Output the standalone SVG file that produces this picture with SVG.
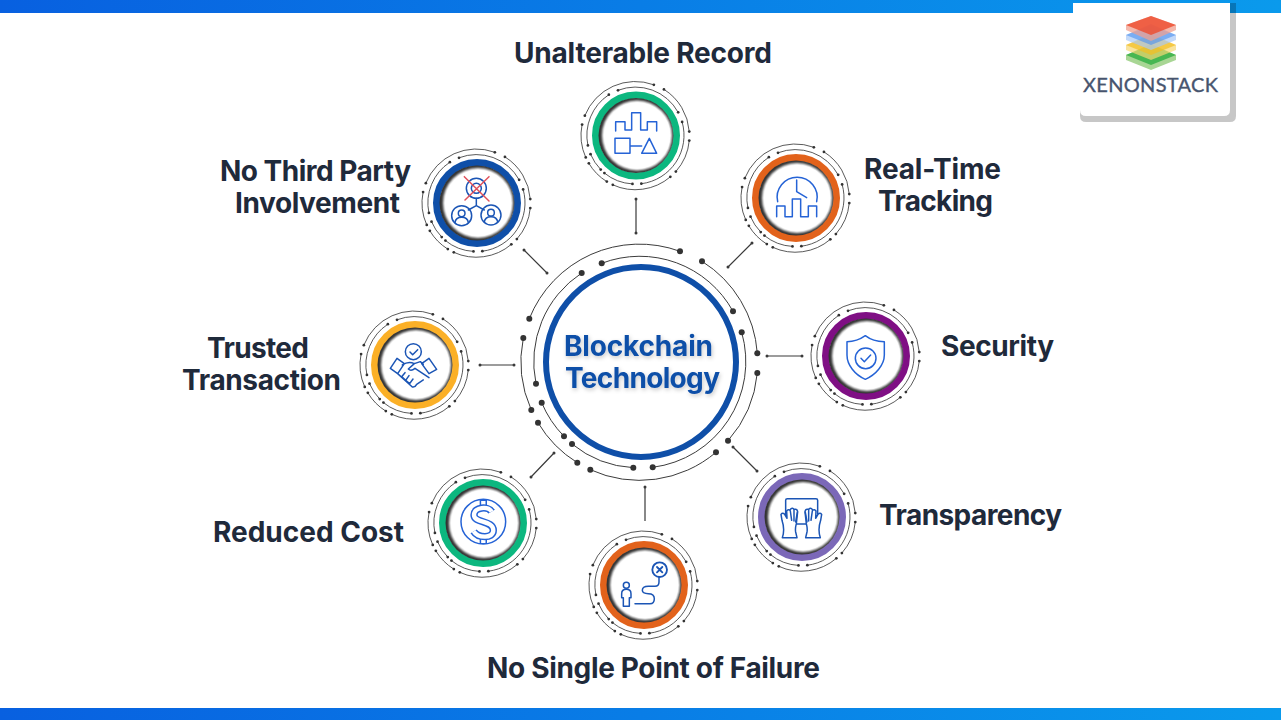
<svg xmlns="http://www.w3.org/2000/svg" width="1281" height="721" viewBox="0 0 1281 721">
<style>
text{font-family:Inter,"Liberation Sans",sans-serif}
.lbl{font-size:28px;font-weight:700;fill:#1f2a3b}
.cen{font-size:28px;font-weight:700;fill:#0f4fa8;filter:url(#ts)}
.arc{fill:none;stroke:#3c3c3c;vector-effect:non-scaling-stroke}
.dot{fill:#333;stroke:none}
.conn{stroke:#3a3a3a;stroke-width:1.2;fill:none}
.end{fill:#3a3a3a}
.ic{fill:none;stroke:#2563d6;stroke-width:4.5;stroke-linejoin:round;stroke-linecap:round}
.icd{fill:none;stroke:#1b55b5;stroke-width:4.5;stroke-linejoin:round;stroke-linecap:round}
.sat{stroke-width:.85}
.main{stroke-width:1}
</style>
<defs>
<linearGradient id="bar" x1="0" x2="1" y1="0" y2="0"><stop offset="0" stop-color="#0860e0"/><stop offset="1" stop-color="#0a9aec"/></linearGradient>
<filter id="ts" x="-20%" y="-30%" width="140%" height="170%"><feDropShadow dx="1" dy="2" stdDeviation="2.2" flood-color="#000" flood-opacity=".22"/></filter>
<filter id="b" x="-20%" y="-20%" width="140%" height="140%"><feGaussianBlur stdDeviation="1.1"/></filter>
<g id="circuit">
<path class="arc" d="M-111.7-43.3A118.5 118.5 0 0 1 39-110.7M61-100.7A118.5 118.5 0 0 1 116.3-8.7M116.3 11A118.5 118.5 0 0 1 87 78.7M-50.7 107.7A118.5 118.5 0 0 0 75 90.3M-117.7-24A118.5 118.5 0 0 0-109.7 48M-103 60.7A118.5 118.5 0 0 0-63.7 100.7M-59.3-89A106.5 106.5 0 0 0-105 21.7M-39.3-98.7A106.5 106.5 0 0 1 92-50.7M100.7-29.7A106.5 106.5 0 0 1 11.7 105.3M-99.3 40.7A106.5 106.5 0 0 0-77 74.3M-69 82A106.5 106.5 0 0 0-7.7 105.7"/>
<g class="dot"><circle cx="-111.7" cy="-43.3" r="3"/><circle cx="39" cy="-110.7" r="3"/><circle cx="61" cy="-100.7" r="3"/><circle cx="116.3" cy="-8.7" r="3"/><circle cx="116.3" cy="11" r="3"/><circle cx="87" cy="78.7" r="3"/><circle cx="-50.7" cy="107.7" r="3"/><circle cx="75" cy="90.3" r="3"/><circle cx="-117.7" cy="-24" r="3"/><circle cx="-109.7" cy="48" r="3"/><circle cx="-103" cy="60.7" r="3"/><circle cx="-63.7" cy="100.7" r="3"/><circle cx="-59.3" cy="-89" r="3"/><circle cx="-105" cy="21.7" r="3"/><circle cx="-39.3" cy="-98.7" r="3"/><circle cx="92" cy="-50.7" r="3"/><circle cx="100.7" cy="-29.7" r="3"/><circle cx="11.7" cy="105.3" r="3"/><circle cx="-99.3" cy="40.7" r="3"/><circle cx="-77" cy="74.3" r="3"/><circle cx="-69" cy="82" r="3"/><circle cx="-7.7" cy="105.7" r="3"/></g>
</g>
<g id="disc">
<circle r="37.5" fill="#333"/>
<circle cx="1" r="35" fill="#fff" filter="url(#b)"/>
<circle cx="1.2" r="33" fill="#fff"/>
</g>
<path id="hand" d="M112 242C118 225 116 205 111 190L108 172Q113 165 119 172L126 184L125 162Q130 155 135 160L137 156Q143 151 147 157L150 157Q156 155 158 164L154 200Q150 215 152 225L156 242Z"/>
</defs>
<rect width="1281" height="721" fill="#fff"/>
<rect y="0" width="1281" height="13" fill="url(#bar)"/>
<rect y="708" width="1281" height="12" fill="url(#bar)"/>

<g id="logo">
<path d="M1080 3H1236V116Q1236 122 1230 122H1086Q1080 122 1080 116Z" fill="#000" opacity=".22"/>
<path d="M1073 3H1230V110Q1230 116 1224 116H1086Q1080 116 1080 110V13H1073Z" fill="#fff"/>
<g>
<path d="M1151 46L1176 55V60L1151 70L1126 60V55Z" fill="#a8d694"/><path d="M1151 44L1176 55L1151 65L1126 55Z" fill="#3cb44a" opacity=".9"/>
<path d="M1151 36L1176 45V50L1151 60L1126 50V45Z" fill="#f7d774" opacity=".7"/><path d="M1151 34L1176 45L1151 55L1126 45Z" fill="#f4bd1f" opacity=".7"/>
<path d="M1151 26L1176 35V40L1151 50L1126 40V35Z" fill="#a9c9f7" opacity=".7"/><path d="M1151 24L1176 35L1151 45L1126 35Z" fill="#4a90ee" opacity=".6"/>
<path d="M1151 16L1176 25V30L1151 41L1126 30V25Z" fill="#f0a090" opacity=".75"/><path d="M1151 16L1176 25L1151 35L1126 25Z" fill="#ee4a2c" opacity=".8"/>
</g>
<text x="1083" y="92" font-size="20" fill="#47546e" stroke="#47546e" stroke-width=".35" textLength="135" style="font-family:Lato,'Liberation Sans',sans-serif">XENONSTACK</text>
</g>

<g id="connectors">
<path class="conn" d="M636 198V233M524 250L547 273M752 243L728 267M767 356H802M480 365H514M554 453L531 477M733 447L757 471M645 487V521"/>
<g class="end"><circle cx="636" cy="199" r="1.5"/><circle cx="636" cy="233" r="1.5"/><circle cx="524" cy="250" r="1.5"/><circle cx="547" cy="273" r="1.5"/><circle cx="752" cy="243" r="1.5"/><circle cx="728" cy="267" r="1.5"/><circle cx="767" cy="356" r="1.5"/><circle cx="802" cy="356" r="1.5"/><circle cx="480" cy="365" r="1.5"/><circle cx="514" cy="365" r="1.5"/><circle cx="554" cy="453" r="1.5"/><circle cx="531" cy="477" r="1.5"/><circle cx="733" cy="447" r="1.5"/><circle cx="757" cy="471" r="1.5"/><circle cx="645" cy="487" r="1.5"/></g>
</g>

<g id="center">
<use href="#circuit" class="main" transform="translate(641 362)"/>
<circle cx="641" cy="362" r="95" fill="#fff" stroke="#0f4fa8" stroke-width="6"/>
<text class="cen" x="564" y="356" textLength="149">Blockchain</text>
<text class="cen" x="565" y="388" textLength="155">Technology</text>
</g>

<g id="node-unalterable">
<use href="#circuit" class="sat" transform="translate(636 135.5) scale(.458)"/>
<circle cx="636" cy="135.5" r="40.5" fill="none" stroke="#0cb77f" stroke-width="7"/>
<use href="#disc" x="636" y="135.5"/>
<g class="ic" transform="translate(570 70) scale(.3333)"><path d="M137 183V155H165V180H185V128H212V180H232V155H260V183M135 205H180V250H135ZM180 228H215M238 205L260 250H215Z"/></g>
<text class="lbl" x="514" y="63" textLength="258">Unalterable Record</text>
</g>

<g id="node-third-party">
<use href="#circuit" class="sat" transform="translate(477 203) scale(.458)"/>
<circle cx="477" cy="203" r="40.5" fill="none" stroke="#0f4fa8" stroke-width="7"/>
<use href="#disc" x="477" y="203"/>
<g class="icd" transform="translate(415 140) scale(.3333)"><circle cx="184" cy="145" r="30"/><circle cx="184" cy="145" r="15"/><circle cx="140" cy="227" r="30"/><circle cx="228" cy="225" r="30"/><path d="M184 175V197M160 210L184 197L208 210"/><circle cx="140" cy="220" r="10"/><circle cx="228" cy="218" r="10"/><path d="M120 248Q122 232 140 232Q158 232 160 248M208 246Q210 230 228 230Q246 230 248 246"/><path stroke="#e0505a" d="M148 110L222 183M222 110L150 180"/></g>
<text class="lbl" x="220" y="181" textLength="191">No Third Party</text>
<text class="lbl" x="235" y="213" textLength="165">Involvement</text>
</g>

<g id="node-real-time">
<use href="#circuit" class="sat" transform="translate(796 198) scale(.458)"/>
<circle cx="796" cy="198" r="40.5" fill="none" stroke="#e2621b" stroke-width="7"/>
<use href="#disc" x="796" y="198"/>
<g class="ic" transform="translate(735 135) scale(.3333)"><path d="M128 200A60 60 0 1 1 245 200M185 135V170L215 188M125 245V213H150V245H172V192H197V245H220V213H245V245"/></g>
<text class="lbl" x="864" y="179" textLength="137">Real-Time</text>
<text class="lbl" x="878" y="211" textLength="115">Tracking</text>
</g>

<g id="node-trusted">
<use href="#circuit" class="sat" transform="translate(415 365) scale(.458)"/>
<circle cx="415" cy="365" r="40.5" fill="none" stroke="#fbb027" stroke-width="7"/>
<use href="#disc" x="415" y="365"/>
<g class="icd" transform="translate(355 305) scale(.3333)"><circle cx="175" cy="140" r="24"/><path d="M165 141L173 149L188 134M106 190L126 160L148 176L128 206ZM245 193L222 160L200 176L222 206ZM142 180Q160 168 178 176L196 170L205 178M178 176L160 192Q168 200 180 190L222 218M128 206L172 246Q180 248 185 238L205 225M150 203L140 215L152 226L162 212M162 212L152 226L164 236L174 222"/></g>
<text class="lbl" x="207" y="358" textLength="102">Trusted</text>
<text class="lbl" x="182" y="390" textLength="159">Transaction</text>
</g>

<g id="node-security">
<use href="#circuit" class="sat" transform="translate(866 356) scale(.458)"/>
<circle cx="866" cy="356" r="40.5" fill="none" stroke="#7f0f84" stroke-width="7"/>
<use href="#disc" x="866" y="356"/>
<g class="ic" transform="translate(805 300) scale(.3333)"><path d="M181 107C160 122 145 125 126 125V165C126 195 150 225 181 238C212 225 238 195 238 165V125C215 125 200 122 181 107Z"/><circle cx="182" cy="175" r="31"/><path d="M168 175L178 185L197 165"/></g>
<text class="lbl" x="941" y="356" textLength="113">Security</text>
</g>

<g id="node-reduced">
<use href="#circuit" class="sat" transform="translate(483 523) scale(.458)"/>
<circle cx="483" cy="523" r="40.5" fill="none" stroke="#0cb77f" stroke-width="7"/>
<use href="#disc" x="483" y="523"/>
<g transform="translate(425 460) scale(.3333)">
<circle class="ic" cx="175" cy="185" r="67"/>
<path d="M175 120V140M175 232V252" fill="none" stroke="#2563d6" stroke-width="22"/>
<path d="M175 123V140M175 232V249" fill="none" stroke="#fff" stroke-width="13"/>
<path d="M200 155C190 138 147 140 147 165C147 190 205 180 205 211C205 237 158 234 146 214" fill="none" stroke="#2563d6" stroke-width="22"/>
<path d="M200 155C190 138 147 140 147 165C147 190 205 180 205 211C205 237 158 234 146 214" fill="none" stroke="#fff" stroke-width="13"/>
</g>
<text class="lbl" x="213" y="542" textLength="191">Reduced Cost</text>
</g>

<g id="node-transparency">
<use href="#circuit" class="sat" transform="translate(802 517) scale(.458)"/>
<circle cx="802" cy="517" r="40.5" fill="none" stroke="#7b68b8" stroke-width="7"/>
<use href="#disc" x="802" y="517"/>
<g class="icd" transform="translate(745 457) scale(.3333)"><rect x="122" y="125" width="96" height="76" rx="5"/><use href="#hand" fill="#fff"/><use href="#hand" fill="#fff" transform="translate(338 0) scale(-1 1)"/><path d="M136 162L140 190M147 158L147 192M157 166L152 195M202 162L198 190M191 158L191 192M181 166L186 195"/></g>
<text class="lbl" x="879" y="525" textLength="183">Transparency</text>
</g>

<g id="node-single-point">
<use href="#circuit" class="sat" transform="translate(644 585) scale(.458)"/>
<circle cx="644" cy="585" r="40.5" fill="none" stroke="#e2621b" stroke-width="7"/>
<use href="#disc" x="644" y="585"/>
<g class="icd" transform="translate(585 527) scale(.3333)"><circle cx="224" cy="128" r="22" stroke-width="5.5"/><path d="M216 120L232 136M232 120L216 136" stroke-width="5.5"/><path d="M150 230H195Q208 230 208 215Q208 200 190 200Q172 200 172 190Q172 178 190 178H210Q222 178 222 165V150"/><circle cx="124" cy="175" r="9"/><path d="M110 200Q110 187 124 187Q138 187 138 200V212H133V238H115V212H110Z"/></g>
<text class="lbl" x="487" y="678" textLength="333">No Single Point of Failure</text>
</g>
</svg>
